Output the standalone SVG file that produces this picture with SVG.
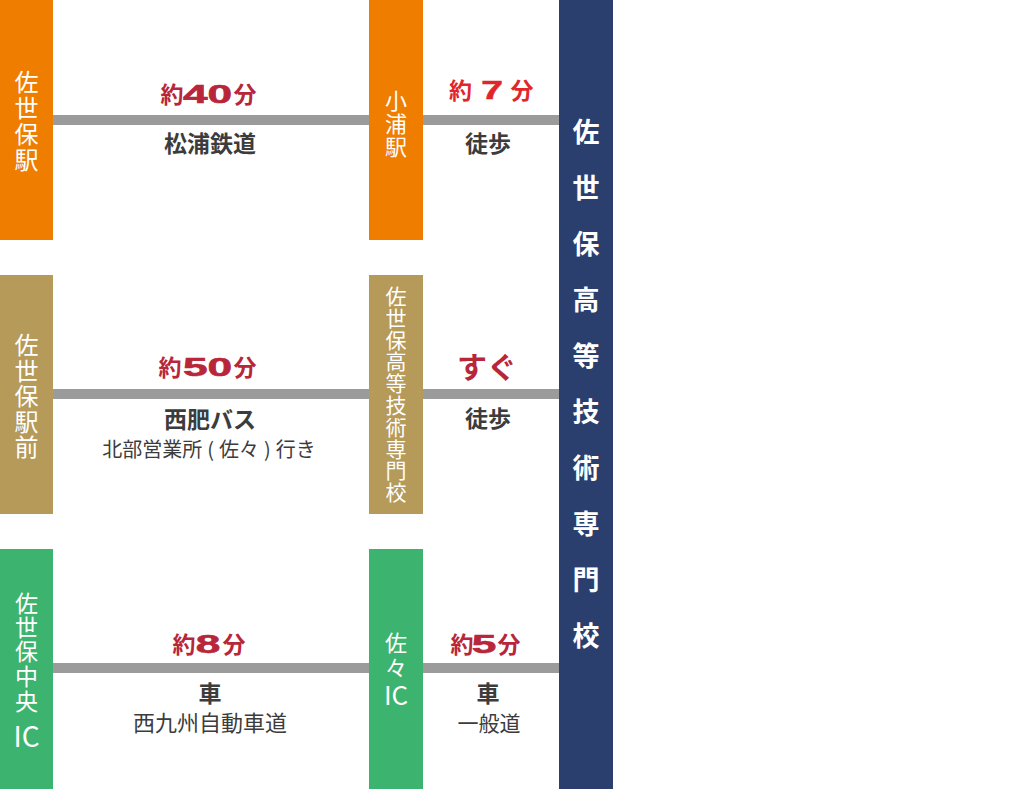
<svg xmlns="http://www.w3.org/2000/svg" width="1024" height="789" viewBox="0 0 1024 789">
<style>
.v{fill:#fff;text-anchor:middle;font-family:"Noto Sans CJK JP","Liberation Sans",sans-serif}
.vb{fill:#fff;text-anchor:middle;font-weight:700;font-size:27px;font-family:"Noto Sans CJK JP","Liberation Sans",sans-serif}
.lb{fill:#3c3c3c;text-anchor:middle;font-weight:700;font-size:23px;font-family:"Noto Sans CJK JP","Liberation Sans",sans-serif}
.ls{fill:#3c3c3c;text-anchor:middle;font-size:20px;font-family:"Noto Sans CJK JP","Liberation Sans",sans-serif}
.rk{fill:#b8263a;text-anchor:middle;font-weight:700;font-size:23px;font-family:"Noto Sans CJK JP","Liberation Sans",sans-serif}
.rd{fill:#b8263a;text-anchor:middle;font-weight:700;font-size:26px;font-family:"Liberation Sans","Noto Sans CJK JP",sans-serif;stroke:#b8263a;stroke-width:0.6}
.br{fill:#e1262b;stroke:#e1262b}
.orange{fill:#ee7d00}
.gold{fill:#b59a5a}
.green{fill:#3db370}
.navy{fill:#2b3f6e}
.line{fill:#9b9b9b}
</style>

<g id="connectors">
<rect class="line" x="53" y="115" width="316" height="10"/>
<rect class="line" x="423" y="115" width="136" height="10"/>
<rect class="line" x="53" y="389" width="316" height="10"/>
<rect class="line" x="423" y="389" width="136" height="10"/>
<rect class="line" x="53" y="663" width="316" height="10"/>
<rect class="line" x="423" y="663" width="136" height="10"/>
</g>

<g id="node-sasebo-eki">
<rect class="orange" x="0" y="0" width="53" height="240"/>
<text class="v" style="font-size:24px" x="26.5"><tspan x="26.5" y="90.5">佐</tspan><tspan x="26.5" y="116.5">世</tspan><tspan x="26.5" y="142.5">保</tspan><tspan x="26.5" y="168.5">駅</tspan></text>
</g>

<g id="node-koura-eki">
<rect class="orange" x="369" y="0" width="54" height="240"/>
<text class="v" style="font-size:22px" x="396"><tspan x="396" y="109">小</tspan><tspan x="396" y="132">浦</tspan><tspan x="396" y="155">駅</tspan></text>
</g>

<g id="node-sasebo-ekimae">
<rect class="gold" x="0" y="275" width="53" height="239"/>
<text class="v" style="font-size:24px" x="26.5"><tspan x="26.5" y="354">佐</tspan><tspan x="26.5" y="379.5">世</tspan><tspan x="26.5" y="405">保</tspan><tspan x="26.5" y="430.5">駅</tspan><tspan x="26.5" y="456">前</tspan></text>
</g>

<g id="node-school-stop">
<rect class="gold" x="369" y="275" width="54" height="239"/>
<text class="v" style="font-size:21px" x="396"><tspan x="396" y="304">佐</tspan><tspan x="396" y="326">世</tspan><tspan x="396" y="347.5">保</tspan><tspan x="396" y="369">高</tspan><tspan x="396" y="391">等</tspan><tspan x="396" y="413">技</tspan><tspan x="396" y="435">術</tspan><tspan x="396" y="456.5">専</tspan><tspan x="396" y="478">門</tspan><tspan x="396" y="500">校</tspan></text>
</g>

<g id="node-sasebo-chuo-ic">
<rect class="green" x="0" y="549" width="53" height="240"/>
<text class="v" style="font-size:23px" x="26.5"><tspan x="26.5" y="611.5">佐</tspan><tspan x="26.5" y="636">世</tspan><tspan x="26.5" y="660">保</tspan><tspan x="26.5" y="685">中</tspan><tspan x="26.5" y="710">央</tspan></text>
<text class="v" style="font-size:28px" x="26.5" y="747">IC</text>
</g>

<g id="node-saza-ic">
<rect class="green" x="369" y="549" width="54" height="240"/>
<text class="v" style="font-size:22px" x="396"><tspan x="396" y="650.5">佐</tspan><tspan x="396" y="676">々</tspan></text>
<text class="v" style="font-size:26px" x="396" y="705">IC</text>
</g>

<g id="node-school">
<rect class="navy" x="559" y="0" width="54" height="789"/>
<text class="vb" x="586"><tspan x="586" y="142">佐</tspan><tspan x="586" y="198">世</tspan><tspan x="586" y="254">保</tspan><tspan x="586" y="310">高</tspan><tspan x="586" y="366">等</tspan><tspan x="586" y="422">技</tspan><tspan x="586" y="478">術</tspan><tspan x="586" y="534">専</tspan><tspan x="586" y="590">門</tspan><tspan x="586" y="646">校</tspan></text>
</g>

<g id="labels">
<!-- row 1 -->
<text class="rk" x="172" y="103">約</text>
<text class="rd" transform="translate(207.5 103) scale(1.7 1)">40</text>
<text class="rk" x="245" y="103">分</text>
<text class="lb" x="210" y="152">松浦鉄道</text>

<text class="rk br" style="stroke:none" x="460.5" y="99">約</text>
<text class="rd br" transform="translate(492 99) scale(1.5 1)">7</text>
<text class="rk br" style="stroke:none" x="522" y="99">分</text>
<text class="lb" x="488" y="152">徒歩</text>

<!-- row 2 -->
<text class="rk" x="170" y="376">約</text>
<text class="rd" transform="translate(207.5 376) scale(1.7 1)">50</text>
<text class="rk" x="245" y="376">分</text>
<text class="lb" x="210" y="428">西肥バス</text>
<text class="ls" x="209" y="457">北部営業所<tspan dx="5">(</tspan><tspan dx="5">佐々</tspan><tspan dx="5">)</tspan><tspan dx="5">行き</tspan></text>

<text class="rk" x="487" y="378" style="font-size:30px">すぐ</text>
<text class="lb" x="488" y="427">徒歩</text>

<!-- row 3 -->
<text class="rk" x="184" y="653">約</text>
<text class="rd" transform="translate(208 653) scale(1.7 1)">8</text>
<text class="rk" x="234" y="653">分</text>
<text class="lb" x="210" y="702">車</text>
<text class="ls" x="210" y="731" style="font-size:22px">西九州自動車道</text>

<text class="rk" x="462" y="653">約</text>
<text class="rd" transform="translate(484 653) scale(1.7 1)">5</text>
<text class="rk" x="509" y="653">分</text>
<text class="lb" x="488" y="702">車</text>
<text class="ls" x="489" y="731" style="font-size:21px">一般道</text>
</g>
</svg>
